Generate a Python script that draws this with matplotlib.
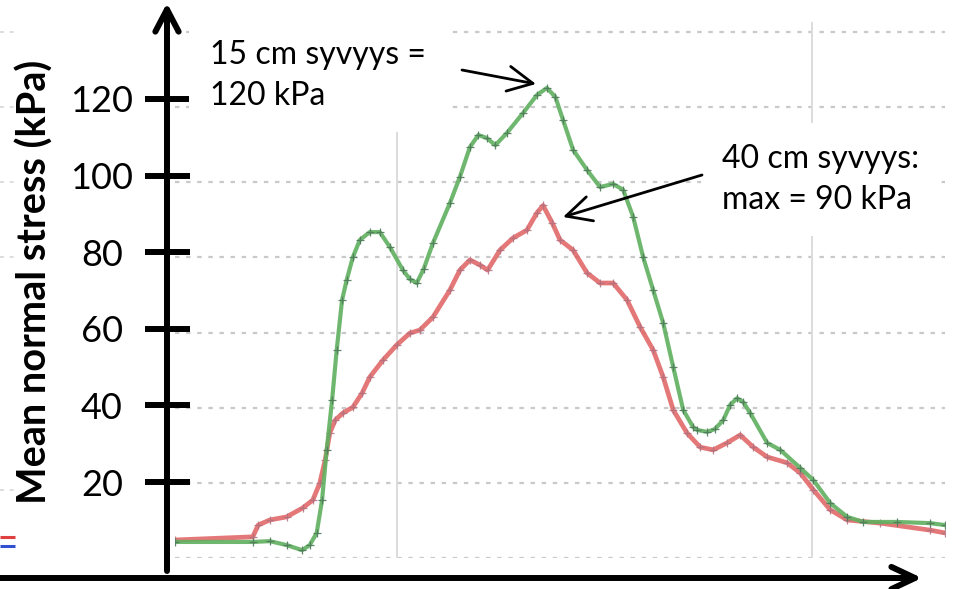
import matplotlib
matplotlib.use("Agg")
import matplotlib.pyplot as plt

plt.rcParams['font.family'] = ['Lato', 'DejaVu Sans']

# ---- measured series (time axis in s, stress in kPa) ----
t_15cm = [0.0, 10.1, 12.3, 14.5, 16.5, 17.5, 18.4, 19.1, 19.7, 20.4, 21.0, 21.7,
          22.3, 23.1, 24.0, 25.3, 26.6, 27.9, 29.6, 30.5, 31.4, 32.3, 33.5, 35.7,
          37.0, 38.3, 39.4, 40.5, 41.6, 43.1, 45.2, 47.0, 48.3, 49.4, 50.4, 51.7,
          53.5, 55.2, 56.9, 58.2, 59.5, 60.8, 62.1, 63.4, 64.7, 66.0, 67.3, 67.8,
          69.1, 70.1, 71.2, 72.1, 73.0, 73.8, 74.7, 76.9, 78.6, 81.2, 82.9, 85.1,
          87.3, 89.4, 93.8, 98.1, 100.0]
p_15cm = [4.1, 4.1, 4.3, 3.3, 2.0, 3.3, 6.4, 14.8, 27.6, 40.3, 53.1, 65.9,
          71.0, 76.8, 81.2, 83.2, 83.2, 79.4, 73.5, 71.2, 70.2, 73.8, 80.4, 90.6,
          97.3, 104.9, 108.0, 107.2, 105.4, 108.5, 113.6, 118.2, 120.0, 117.7, 111.8, 104.2,
          99.1, 94.7, 95.5, 94.0, 87.1, 76.8, 68.4, 60.0, 48.8, 37.8, 33.4, 32.7,
          32.2, 32.9, 35.2, 39.1, 40.8, 39.8, 37.0, 29.4, 27.6, 23.0, 19.9, 14.0,
          10.5, 9.2, 9.2, 8.9, 8.4]

t_40cm = [0.0, 10.1, 10.8, 12.3, 14.5, 16.6, 17.9, 18.8, 19.5, 20.1, 20.8, 21.8,
          23.1, 24.3, 25.3, 27.0, 28.8, 30.5, 31.8, 33.5, 35.7, 37.0, 38.3, 39.6,
          40.6, 42.2, 43.9, 45.7, 47.0, 47.8, 49.0, 50.0, 51.7, 53.5, 55.2, 56.9,
          58.7, 60.4, 62.1, 63.4, 64.7, 66.5, 68.2, 69.9, 71.7, 73.4, 75.1, 76.9,
          79.5, 81.2, 82.9, 85.1, 87.3, 91.6, 98.1, 100.0]
p_40cm = [4.6, 5.4, 8.4, 9.7, 10.5, 12.8, 14.8, 19.1, 25.0, 31.9, 35.2, 37.0,
          38.5, 42.1, 46.2, 50.5, 54.4, 57.4, 58.2, 61.5, 68.4, 73.5, 76.1, 74.8,
          73.5, 78.6, 81.7, 83.7, 88.1, 90.0, 85.5, 81.2, 78.6, 72.8, 70.2, 70.2,
          65.9, 59.0, 53.1, 46.2, 37.8, 31.9, 28.3, 27.6, 29.4, 31.4, 28.3, 25.8,
          24.3, 21.7, 17.4, 12.3, 9.7, 8.9, 7.1, 6.4]

# original chart's grid (kPa) and the vertical grid times (s)
grid_levels = [0, 20, 40, 60, 80, 100, 120, 140]
grid_times = [28.8, 82.7]

# overlaid stress axis
tick_values = [20, 40, 60, 80, 100, 120]
tick_labels = ['20', '40', '60', '80', '100', '120']

y_label = 'Mean normal stress (kPa)'
note_15 = '15 cm syvyys =\n120 kPa'
note_40 = '40 cm syvyys:\nmax = 90 kPa'

W, H = 956, 589
fig = plt.figure(figsize=(W / 100, H / 100), dpi=100)

# plot frame in pixels: x 175..945, y baseline at 558
frame = [175 / W, (H - 558) / H, 770 / W, 558 / H]

# --- grid of the underlying chart ---
ax_g = fig.add_axes(frame, zorder=0)
ax_g.set_xlim(0, 100)
ax_g.set_ylim(0, 558 / 3.757)
ax_g.axis('off')
ax_g.hlines(grid_levels, 0, 100, colors='#c9c9c9', linestyles=(0, (2, 3)), lw=1.6)
ax_g.vlines(grid_times, -0.6, 142.7, colors='#dcdcdc', lw=1.4)

# --- measured curves ---
ax_d = fig.add_axes(frame, zorder=1)
ax_d.set_xlim(0, 100)
ax_d.set_ylim(0, 558 / 3.917)
ax_d.axis('off')
ax_d.patch.set_alpha(0)
ax_d.plot(t_40cm, p_40cm, color='#e06060', lw=3.4, alpha=0.85,
          solid_capstyle='round', solid_joinstyle='round',
          marker='+', ms=5.5, mew=0.9, mec='#b07080')
ax_d.plot(t_15cm, p_15cm, color='#5fb05f', lw=3.0, alpha=0.9,
          solid_capstyle='round', solid_joinstyle='round',
          marker='+', ms=5.5, mew=0.9, mec='#4f7a5c')

# --- overlay drawn in pixel coordinates ---
ax_o = fig.add_axes([0, 0, 1, 1], zorder=2)
ax_o.set_xlim(0, W)
ax_o.set_ylim(H, 0)
ax_o.axis('off')
ax_o.patch.set_alpha(0)


def tick_py(v):
    return 558.6 - v * 3.83


# cropped legend remnants at the left edge
ax_o.hlines([537], 0, 15, colors='#e04040', lw=2.2)
ax_o.hlines([546], 0, 15, colors='#3050d0', lw=2.2)
ax_o.hlines([32, 107, 182, 257, 490], 0, 15, colors='#dddddd',
            linestyles=(0, (2, 3)), lw=1.4)

# axes arrows
ax_o.annotate('', xy=(167, 3), xytext=(167, 571),
              arrowprops=dict(arrowstyle='->,head_length=0.8,head_width=0.42',
                              mutation_scale=20, lw=4.3, color='black',
                              shrinkA=0, shrinkB=0))
ax_o.annotate('', xy=(922, 578), xytext=(0, 578),
              arrowprops=dict(arrowstyle='->,head_length=0.85,head_width=0.4',
                              mutation_scale=20, lw=4.3, color='black',
                              shrinkA=0, shrinkB=0))

# ticks and labels
for v, lab in zip(tick_values, tick_labels):
    py = tick_py(v)
    ax_o.plot([145, 190], [py, py], color='black', lw=4.3, solid_capstyle='butt')
    ax_o.text(102, py, lab, fontsize=26, ha='center', va='center_baseline',
              color='black')

ax_o.text(35, 282, y_label, rotation=90, fontsize=28.5, fontweight='bold',
          ha='center', va='center', color='black')

# notes
ax_o.text(210, 105, note_15, fontsize=23, ha='left', va='baseline',
          linespacing=1.45, color='black',
          bbox=dict(facecolor='white', edgecolor='none', pad=15))
ax_o.text(722, 209, note_40, fontsize=23, ha='left', va='baseline',
          linespacing=1.45, color='black',
          bbox=dict(facecolor='white', edgecolor='none', pad=15))

ax_o.annotate('', xy=(536, 84), xytext=(462, 70),
              arrowprops=dict(arrowstyle='->,head_length=0.9,head_width=0.45',
                              mutation_scale=20, lw=2.0, color='black',
                              shrinkA=0, shrinkB=0))
ax_o.annotate('', xy=(563, 217), xytext=(702, 175),
              arrowprops=dict(arrowstyle='->,head_length=0.9,head_width=0.45',
                              mutation_scale=20, lw=2.0, color='black',
                              shrinkA=0, shrinkB=0))

fig.savefig('out.png', dpi=100)
